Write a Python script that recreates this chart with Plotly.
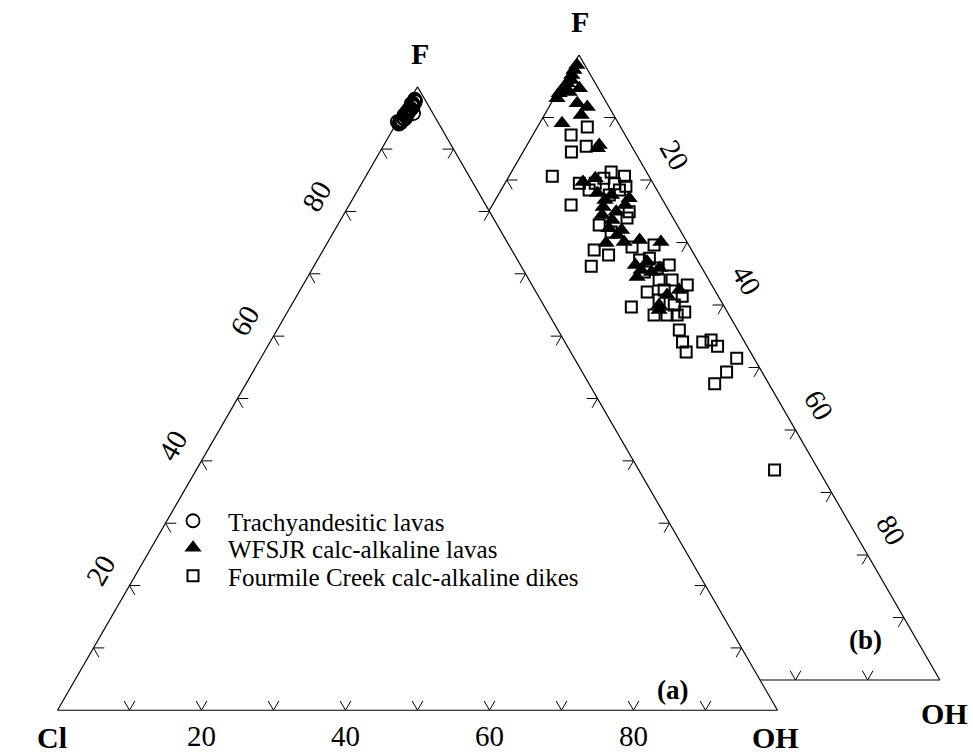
import plotly.graph_objects as go

FONT = "Liberation Serif"

# ---------------- data (F, OH in %; Cl = remainder) ----------------
trachy_F = [98.0, 97.8, 97.6, 97.4, 97.3, 97.1, 97.0, 96.8, 96.6, 96.5, 96.3, 96.1, 96.0, 95.8,
            95.6, 95.5, 95.3, 95.1, 95.0, 94.8, 94.6, 94.5, 94.3, 94.1, 94.0, 95.7, 94.4]
trachy_OH = [0.6, 0.8, 0.9, 0.6, 0.5, 0.9, 0.8, 1.0, 0.7, 0.6, 0.9, 0.6, 0.5, 0.8,
             0.6, 0.4, 0.7, 0.9, 0.5, 0.8, 0.5, 0.3, 0.6, 0.5, 0.4, 1.6, 0.0]

wfsjr_F = [98.4, 97.6, 96.8, 96.0, 95.5, 94.9, 94.4, 93.9, 93.1, 94.7, 94.1, 92.3, 91.7, 90.4, 89.1,
           85.6, 85.1, 79.7, 80.3, 77.9, 76.8, 77.6, 77.1, 74.9, 74.4, 73.6, 72.3, 72.0, 71.2, 69.9,
           70.1, 70.4, 70.1, 66.4, 65.6, 66.9, 64.5, 65.3, 65.9, 61.6, 62.4, 60.0, 75.7, 76.0, 59.2]
wfsjr_OH = [0.5, 0.5, 0.6, 0.9, 0.6, 0.5, 0.5, 0.3, 0.4, 2.7, 1.6, 3.6, 5.3, 5.1, 3.1,
            10.0, 10.0, 10.7, 12.1, 13.6, 15.2, 15.7, 18.4, 17.7, 16.0, 17.8, 18.0, 19.9, 19.7, 18.8,
            21.2, 23.2, 26.3, 24.6, 25.8, 26.0, 25.8, 27.4, 28.2, 31.4, 32.7, 31.1, 15.5, 18.4, 31.5]

fourmile_F = [88.5, 87.2, 84.5, 85.4, 80.6, 79.5, 79.5, 80.3, 81.3, 79.4, 80.6, 79.0, 76.0, 78.4, 77.6,
              78.4, 74.9, 72.8, 71.7, 73.9, 68.8, 68.0, 69.3, 69.6, 66.2, 67.2, 65.9, 65.3, 64.0, 66.4,
              64.0, 63.2, 59.7, 60.8, 62.4, 60.0, 61.4, 58.4, 58.4, 58.4, 58.9, 56.0, 54.1, 52.5, 54.1,
              54.4, 53.4, 51.5, 49.3, 47.4, 33.6, 67.5, 62.1]
fourmile_OH = [6.9, 5.3, 6.7, 8.3, 6.0, 10.3, 12.5, 13.3, 13.8, 15.2, 16.0, 17.0, 10.9, 12.2, 15.4,
               16.4, 19.5, 16.4, 18.6, 19.7, 17.7, 20.1, 22.7, 25.6, 18.6, 24.8, 27.9, 26.4, 29.1, 29.3,
               30.9, 33.4, 27.4, 30.7, 30.6, 33.2, 33.6, 31.2, 33.0, 34.4, 35.2, 35.9, 37.3, 38.6, 40.1,
               41.1, 42.5, 46.1, 45.8, 45.1, 60.3, 26.0, 28.4]

tick_values = [10, 20, 30, 40, 50, 60, 70, 80, 90]
label_values = [20, 40, 60, 80]
label_text = ["20", "40", "60", "80"]

series_names = ["Trachyandesitic lavas", "WFSJR calc-alkaline lavas",
                "Fourmile Creek calc-alkaline dikes"]


def remainder(F, OH):
    return [100 - f - o for f, o in zip(F, OH)]


def chevrons(edge, vals, L=1.5):
    A, B, C = [], [], []
    for v in vals:
        if edge == "left":      # OH = 0, F = v
            pts = [(v, 100 - v - L, L), (v, 100 - v, 0), (v - L, 100 - v, L)]
        elif edge == "right":   # Cl = 0, F = v
            pts = [(v, L, 100 - v - L), (v, 0, 100 - v), (v - L, L, 100 - v)]
        else:                   # bottom: F = 0, OH = v
            pts = [(L, 100 - v - L, v), (0, 100 - v, v), (L, 100 - v, v - L)]
        for p in pts:
            A.append(p[0]); B.append(p[1]); C.append(p[2])
        A.append(None); B.append(None); C.append(None)
    return A, B, C


fig = go.Figure()

# ---- chevron tick marks for both diagrams ----
for sub in ["ternary", "ternary2"]:
    for edge in ["left", "right", "bottom"]:
        A, B, C = chevrons(edge, tick_values)
        fig.add_trace(go.Scatterternary(a=A, b=B, c=C, mode="lines", subplot=sub,
                                        line=dict(color="black", width=1),
                                        showlegend=False, hoverinfo="skip"))

# ---- (a) trachyandesitic lavas ----
fig.add_trace(go.Scatterternary(
    a=trachy_F, b=remainder(trachy_F, trachy_OH), c=trachy_OH, subplot="ternary2",
    mode="markers", name=series_names[0], legend="legend", cliponaxis=False,
    marker=dict(symbol="circle-open", size=13, color="black", line=dict(width=1.8))))

# ---- (b) WFSJR + Fourmile ----
fig.add_trace(go.Scatterternary(
    a=fourmile_F, b=remainder(fourmile_F, fourmile_OH), c=fourmile_OH, subplot="ternary",
    mode="markers", name=series_names[2], legend="legend3", cliponaxis=False,
    marker=dict(symbol="square-open", size=11, color="black", line=dict(width=2))))
fig.add_trace(go.Scatterternary(
    a=wfsjr_F, b=remainder(wfsjr_F, wfsjr_OH), c=wfsjr_OH, subplot="ternary",
    mode="markers", name=series_names[1], legend="legend2", cliponaxis=False,
    marker=dict(symbol="triangle-up", size=15, color="black")))

tickfont = dict(family=FONT, size=29, color="black")


def axis(labels, tickvals=None, ticktext=None, tickangle=None, ticklen=8, ticks="outside"):
    d = dict(title=dict(text=""), linecolor="black", linewidth=1.2,
             showgrid=False, ticks=ticks, ticklen=ticklen, tickcolor="rgba(0,0,0,0)",
             showticklabels=labels, tickfont=tickfont, min=0)
    if tickvals is not None:
        d["tickmode"] = "array"
        d["tickvals"] = tickvals
    if ticktext is not None:
        d["ticktext"] = ticktext
    if tickangle is not None:
        d["tickangle"] = tickangle
    return d


W, H = 973, 753


def label(text, x, y, size=30):
    return dict(text=text, x=x / W, y=1 - y / H, xref="paper", yref="paper",
                xanchor="center", yanchor="middle",
                showarrow=False, font=dict(family=FONT, size=size, color="black"))


fig.update_layout(
    width=W, height=H,
    margin=dict(l=0, r=0, t=0, b=0),
    paper_bgcolor="white",
    font=dict(family=FONT, color="black"),
    # (b) drawn first, so (a) covers it
    ternary=dict(
        domain=dict(x=[218 / W, 940 / W], y=[(H - 680) / H, (H - 55) / H]),
        sum=100, bgcolor="white",
        aaxis=axis(False, tickvals=label_values),
        baxis=axis(False, tickvals=label_values),
        caxis=axis(True, tickvals=label_values, ticktext=label_text, tickangle=60, ticklen=11),
    ),
    ternary2=dict(
        domain=dict(x=[57.5 / W, 777.5 / W], y=[(H - 711) / H, (H - 86) / H]),
        sum=100, bgcolor="white",
        aaxis=axis(True, tickvals=label_values, ticktext=label_text, tickangle=-60, ticklen=11),
        baxis=axis(True, tickvals=label_values[::-1], ticktext=label_text, ticks=""),
        caxis=axis(False, tickvals=label_values),
    ),
    annotations=[
        label("<b>F</b>", 420, 53),
        label("<b>Cl</b>", 52, 737),
        label("<b>OH</b>", 775, 737),
        label("<b>F</b>", 580, 22),
        label("<b>OH</b>", 944, 713),
        label("<b>(a)</b>", 672, 690, 27),
        label("<b>(b)</b>", 865, 640, 27),
    ],
)

leg_common = dict(xanchor="left", yanchor="middle", bgcolor="rgba(0,0,0,0)",
                  font=dict(family=FONT, size=25, color="black"), itemwidth=60)
fig.update_layout(
    legend=dict(x=158 / W, y=1 - 521 / H, **leg_common),
    legend2=dict(x=158 / W, y=1 - 548 / H, **leg_common),
    legend3=dict(x=158 / W, y=1 - 576 / H, **leg_common),
)

fig.write_html("out.html")
